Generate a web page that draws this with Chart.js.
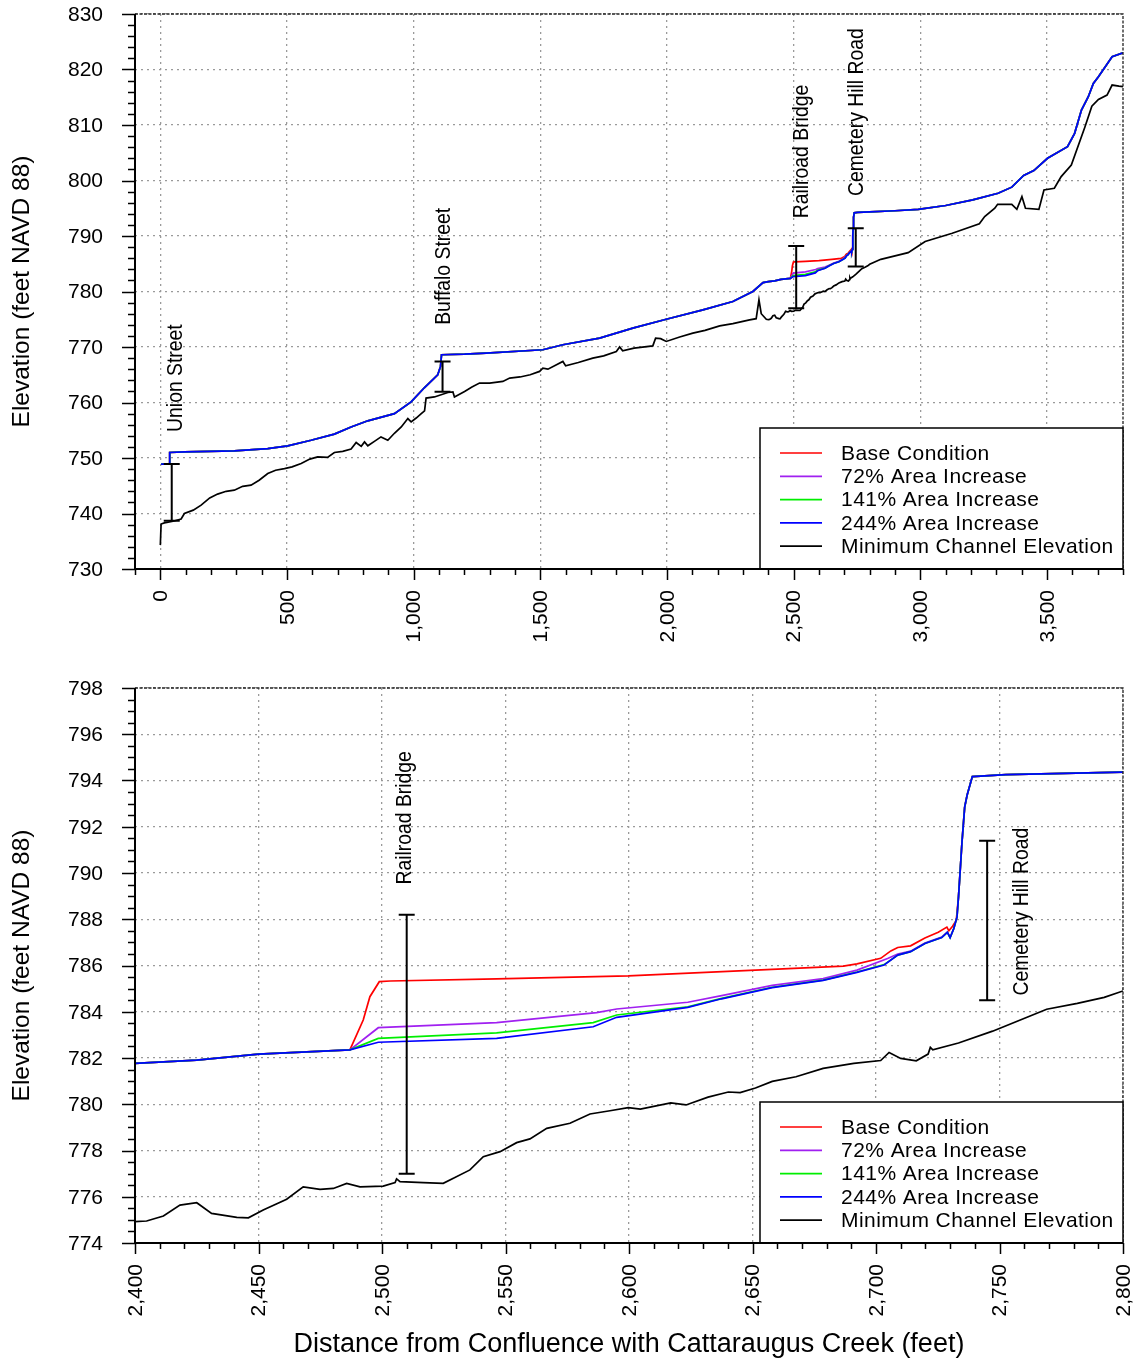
<!DOCTYPE html>
<html>
<head>
<meta charset="utf-8">
<script src="https://cdn.jsdelivr.net/npm/chart.js@4.4.1/dist/chart.umd.min.js"></script>
<style>
  body { margin: 0; background: #fff; }
  canvas { position: absolute; left: 0; }
  #topChart { top: 0; }
  #bottomChart { top: 660px; }
</style>
</head>
<body>
<canvas id="topChart" width="1133" height="660"></canvas>
<canvas id="bottomChart" width="1133" height="702"></canvas>
<script>
// water surface shared by all four runs, upstream of the railroad bridge
const wsUpX = [3, 36, 37, 95, 292, 424, 503, 595, 687, 753, 819, 924, 990, 1043, 1095, 1106, 1110, 1201, 1286, 1510, 1589, 1734, 1865, 1997, 2142, 2260, 2339, 2379, 2400, 2425, 2450, 2487];
const wsUpY = [748.9, 748.9, 751.0, 751.1, 751.3, 751.7, 752.2, 753.2, 754.3, 755.6, 756.7, 758.0, 760.1, 762.7, 765.0, 766.5, 768.6, 768.7, 768.9, 769.5, 770.4, 771.6, 773.4, 775.0, 776.7, 778.2, 780.0, 781.6, 781.77, 781.91, 782.17, 782.35];

// the part where the runs differ (railroad bridge to cemetery hill road)
const baseMidX = [2492.4, 2495.1, 2498.9, 2503.3, 2546.4, 2599.7, 2651.2, 2686.8, 2692.3, 2701.9, 2706, 2708.8, 2714, 2719.8, 2725.2, 2728.7, 2729.5, 2731, 2732.5];
const baseMidY = [783.64, 784.65, 785.30, 785.33, 785.42, 785.55, 785.8, 785.97, 786.07, 786.31, 786.63, 786.78, 786.85, 787.19, 787.44, 787.66, 787.5, 787.7, 787.95];
const pct72MidX = [2498.5, 2546.4, 2586.9, 2595, 2623.8, 2637.5, 2658, 2678.6, 2692.3, 2704.7, 2708.8, 2714, 2719.8, 2726.6, 2728.9, 2730, 2731.5, 2732.8];
const pct72MidY = [783.31, 783.53, 783.96, 784.12, 784.41, 784.70, 785.14, 785.43, 785.8, 786.3, 786.5, 786.62, 786.97, 787.23, 787.45, 787.22, 787.6, 788.1];
const pct141MidX = [2498.5, 2546.4, 2585.5, 2595, 2623.8, 2637.5, 2658, 2678.6, 2692.3, 2703.3, 2708.8, 2714, 2719.8, 2726.6, 2728.9, 2730, 2731.5, 2732.8];
const pct141MidY = [782.85, 783.09, 783.53, 783.86, 784.21, 784.58, 785.06, 785.37, 785.72, 786.04, 786.45, 786.6, 786.95, 787.21, 787.43, 787.2, 787.6, 788.1];
const pct244MidX = [2498.5, 2546.4, 2585.5, 2595, 2623.8, 2637.5, 2658, 2678.6, 2692.3, 2703.3, 2708.8, 2714, 2719.8, 2726.6, 2728.9, 2730, 2731.5, 2732.8];
const pct244MidY = [782.68, 782.85, 783.35, 783.76, 784.19, 784.56, 785.04, 785.36, 785.70, 786.02, 786.45, 786.6, 786.95, 787.21, 787.43, 787.2, 787.6, 788.1];

// shared again downstream of cemetery hill road
const wsDownX = [2733.4, 2734.1, 2734.8, 2735.9, 2736.9, 2739, 2752.6, 2800, 2900, 2992, 3100, 3207, 3307, 3361, 3408, 3448, 3502, 3581, 3609, 3636, 3663, 3683, 3703, 3730, 3757, 3800];
const wsDownY = [788.97, 790.13, 791.32, 792.85, 793.37, 794.17, 794.25, 794.36, 794.55, 794.8, 795.5, 796.5, 797.7, 798.8, 800.9, 801.8, 804.0, 806.1, 808.5, 812.7, 815.1, 817.5, 818.7, 820.5, 822.3, 823.0];

// minimum channel elevation
const chanX = [0, 3, 16, 50, 82, 95, 130, 161, 195, 226, 260, 292, 325, 358, 390, 424, 455, 490, 520, 556, 590, 621, 660, 687, 720, 753, 773, 793, 806, 819, 845, 871, 898, 925, 951, 977, 990, 1010, 1030, 1043, 1049, 1082, 1135, 1155, 1161, 1201, 1230, 1260, 1300, 1352, 1379, 1420, 1460, 1497, 1510, 1530, 1589, 1600, 1650, 1707, 1750, 1800, 1813, 1825, 1870, 1944, 1955, 1975, 1997, 2050, 2102, 2150, 2208, 2260, 2326, 2352, 2363, 2372, 2392,
  2400, 2404.7, 2411.5, 2418.2, 2425, 2431, 2441.2, 2445.9, 2451.9, 2461.4, 2468.1, 2474.9, 2480.3, 2485.7, 2491.1, 2500.5, 2505.3, 2505.9, 2507.3, 2516.7, 2524.8, 2528.9, 2535.6, 2541, 2547.8, 2554.5, 2559.9, 2566.7, 2576.1, 2584.2, 2592.3, 2599.7, 2604.6, 2616.9, 2623.1, 2632, 2640.2, 2645, 2651.2, 2658, 2667.6, 2678.6, 2691, 2701.9, 2705.3, 2710, 2716.3, 2721.1, 2722, 2723, 2733.4, 2747.2, 2760.9, 2769.1, 2781.5, 2792.4, 2800,
  2844, 2952, 3019, 3126, 3233, 3254, 3294, 3305, 3361, 3381, 3401, 3415, 3468, 3488, 3529, 3556, 3596, 3650, 3677, 3703, 3737, 3757, 3784, 3800];
const chanY = [734.3, 738.1, 738.3, 738.6, 739.0, 740.0, 740.6, 741.5, 742.8, 743.5, 744.0, 744.2, 744.9, 745.1, 746.0, 747.2, 747.8, 748.1, 748.4, 749.0, 749.8, 750.2, 750.1, 751.0, 751.2, 751.6, 752.8, 752.1, 752.9, 752.2, 753.0, 753.8, 753.2, 754.5, 755.6, 757.1, 756.5, 757.2, 758.0, 758.5, 760.8, 761.0, 761.8, 761.9, 761.0, 762.0, 762.8, 763.5, 763.5, 763.8, 764.4, 764.6, 765.0, 765.6, 766.2, 766.0, 767.4, 766.6, 767.2, 768.0, 768.4, 769.2, 770.0, 769.3, 769.8, 770.2, 771.6, 771.5, 771.0, 771.8, 772.5, 773.0, 773.8, 774.2, 774.9, 775.1, 778.5, 776.0, 775.0,
  774.92, 774.95, 775.17, 775.64, 775.74, 775.28, 775.11, 775.09, 775.43, 775.89, 776.43, 776.32, 776.36, 776.58, 776.43, 776.46, 776.61, 776.77, 776.65, 776.61, 776.58, 776.8, 777.16, 777.73, 777.95, 778.34, 778.5, 778.96, 779.18, 779.58, 779.72, 779.85, 779.79, 780.06, 779.97, 780.31, 780.53, 780.5, 780.70, 780.99, 781.19, 781.55, 781.77, 781.89, 782.24, 781.98, 781.88, 782.17, 782.46, 782.35, 782.65, 783.16, 783.75, 784.11, 784.36, 784.62, 784.9,
  785.8, 787.0, 789.0, 790.5, 792.2, 793.5, 795.0, 795.7, 795.7, 794.8, 797.1, 795.0, 794.8, 798.3, 798.6, 800.7, 802.8, 809.7, 813.4, 814.6, 815.4, 817.2, 817.0, 816.9];

const seriesNames = ['Base Condition', '72% Area Increase', '141% Area Increase', '244% Area Increase', 'Minimum Channel Elevation'];
const seriesColors = ['#ff0000', '#a020f0', '#00ee00', '#0000ff', '#000000'];

// bridges: station and the marker's vertical range
const bridgeNames = ['Union Street', 'Buffalo Street', 'Railroad Bridge', 'Cemetery Hill Road'];
const bridgeStation = [45, 1114, 2510, 2745];
const bridgeLow = [738.7, 761.95, 777.0, 784.5];
const bridgeHigh = [748.9, 767.4, 788.2, 791.4];
const topLabelStation = [59, 1116, 2528, 2745];
const topLabelElev = [754.7, 774.0, 793.2, 797.2];
const bottomLabelStation = [null, null, 2509, 2758.7];
const bottomLabelElev = [null, null, 789.5, 784.7];

const topXTicks = [0, 500, 1000, 1500, 2000, 2500, 3000, 3500];
const topYTicks = [730, 740, 750, 760, 770, 780, 790, 800, 810, 820, 830];
const bottomXTicks = [2400, 2450, 2500, 2550, 2600, 2650, 2700, 2750, 2800];
const bottomYTicks = [774, 776, 778, 780, 782, 784, 786, 788, 790, 792, 794, 796, 798];

const FONT = "'Liberation Sans', Arial, sans-serif";

function pts(xs, ys) {
  return xs.map((v, i) => ({ x: v, y: ys[i] }));
}

function makeDatasets() {
  const mids = [[baseMidX, baseMidY], [pct72MidX, pct72MidY], [pct141MidX, pct141MidY], [pct244MidX, pct244MidY]];
  const sets = mids.map((m, i) => ({
    label: seriesNames[i],
    data: pts([...wsUpX, ...m[0], ...wsDownX], [...wsUpY, ...m[1], ...wsDownY]),
    borderColor: seriesColors[i],
    order: 4 - i
  }));
  sets.push({ label: seriesNames[4], data: pts(chanX, chanY), borderColor: seriesColors[4], order: 0 });
  sets.forEach(d => {
    d.showLine = true;
    d.pointRadius = 0;
    d.borderWidth = 1.7;
    d.tension = 0;
  });
  return sets;
}

function makeChart(id, cfg) {
  const decor = {
    id: 'decor',
    afterDatasetsDraw(chart) {
      const { ctx, chartArea: a, scales: { x, y } } = chart;
      ctx.save();
      ctx.beginPath();
      ctx.rect(a.left, a.top, a.right - a.left, a.bottom - a.top);
      ctx.clip();
      ctx.strokeStyle = '#000';
      ctx.fillStyle = '#000';
      ctx.lineWidth = 2;
      for (let i = 0; i < bridgeNames.length; i++) {
        if (cfg.labelStation[i] === null) continue;
        const bx = x.getPixelForValue(bridgeStation[i]);
        const y1 = y.getPixelForValue(bridgeHigh[i]);
        const y2 = y.getPixelForValue(bridgeLow[i]);
        ctx.beginPath();
        ctx.moveTo(bx, y1); ctx.lineTo(bx, y2);
        ctx.moveTo(bx - 8, y1); ctx.lineTo(bx + 8, y1);
        ctx.moveTo(bx - 8, y2); ctx.lineTo(bx + 8, y2);
        ctx.stroke();

        const lx = x.getPixelForValue(cfg.labelStation[i]);
        const ly = y.getPixelForValue(cfg.labelElev[i]);
        ctx.save();
        ctx.translate(lx, ly);
        ctx.rotate(-Math.PI / 2);
        ctx.scale(0.88, 1);
        ctx.font = '22px ' + FONT;
        ctx.textAlign = 'left';
        ctx.textBaseline = 'middle';
        ctx.fillText(bridgeNames[i], 0, 1);
        ctx.restore();
      }
      ctx.restore();
    },
    afterDraw(chart) {
      const { ctx, chartArea: a, scales: { x, y } } = chart;
      ctx.save();

      // top and right frame
      ctx.strokeStyle = '#222';
      ctx.lineWidth = 1.3;
      ctx.setLineDash([3, 1.5]);
      ctx.beginPath();
      ctx.moveTo(a.left, a.top); ctx.lineTo(a.right, a.top); ctx.lineTo(a.right, a.bottom);
      ctx.stroke();
      ctx.setLineDash([]);

      // legend box
      const lw = 363, lh = 141;
      const lx = a.right - lw, ly = a.bottom - lh;
      ctx.fillStyle = '#fff';
      ctx.fillRect(lx, ly, lw, lh);
      ctx.strokeStyle = '#000';
      ctx.lineWidth = 1.5;
      ctx.strokeRect(lx, ly, lw, lh);
      ctx.font = '21px ' + FONT;
      ctx.letterSpacing = '0.45px';
      ctx.textAlign = 'left';
      ctx.textBaseline = 'middle';
      for (let i = 0; i < seriesNames.length; i++) {
        const ry = ly + 25 + i * 23.3;
        ctx.strokeStyle = seriesColors[i];
        ctx.lineWidth = 1.7;
        ctx.beginPath();
        ctx.moveTo(lx + 20, ry); ctx.lineTo(lx + 62, ry);
        ctx.stroke();
        ctx.fillStyle = '#000';
        ctx.fillText(seriesNames[i], lx + 81, ry + 1);
      }
      ctx.letterSpacing = '0px';

      // axis lines
      ctx.strokeStyle = '#000';
      ctx.lineWidth = 2;
      ctx.beginPath();
      ctx.moveTo(a.left, a.top); ctx.lineTo(a.left, a.bottom); ctx.lineTo(a.right, a.bottom);
      ctx.stroke();

      // major and minor tick marks
      ctx.lineWidth = 1.5;
      const isMajor = (v, step) => Math.abs(v / step - Math.round(v / step)) < 1e-6;
      const ny = Math.round((cfg.yMax - cfg.yMin) / cfg.yMinor);
      ctx.beginPath();
      for (let i = 0; i <= ny; i++) {
        const v = cfg.yMin + i * cfg.yMinor;
        const py = Math.round(y.getPixelForValue(v)) + 0.5;
        ctx.moveTo(a.left - (isMajor(v, cfg.yMajor) ? 13 : 7), py);
        ctx.lineTo(a.left, py);
      }
      const nx = Math.round((cfg.xMax - cfg.xMin) / cfg.xMinor);
      for (let i = 0; i <= nx; i++) {
        const v = cfg.xMin + i * cfg.xMinor;
        const px = Math.round(x.getPixelForValue(v)) + 0.5;
        ctx.moveTo(px, a.bottom);
        ctx.lineTo(px, a.bottom + (isMajor(v, cfg.xMajor) ? 11 : 6));
      }
      ctx.stroke();

      // tick labels
      ctx.fillStyle = '#000';
      ctx.font = '21px ' + FONT;
      ctx.textAlign = 'right';
      ctx.textBaseline = 'middle';
      cfg.yTicks.forEach(v => {
        ctx.fillText(String(v), a.left - 32, y.getPixelForValue(v) + 1);
      });
      cfg.xTicks.forEach(v => {
        ctx.save();
        ctx.translate(x.getPixelForValue(v) + 1, a.bottom + 21);
        ctx.rotate(-Math.PI / 2);
        ctx.fillText(v.toLocaleString('en-US'), 0, 0);
        ctx.restore();
      });

      // axis titles
      ctx.textAlign = 'center';
      ctx.save();
      ctx.translate(22, (a.top + a.bottom) / 2);
      ctx.rotate(-Math.PI / 2);
      ctx.font = '24.5px ' + FONT;
      ctx.fillText('Elevation (feet NAVD 88)', 0, 0);
      ctx.restore();
      if (cfg.xTitle) {
        ctx.font = '27px ' + FONT;
        ctx.fillText(cfg.xTitle, (a.left + a.right) / 2, cfg.xTitleY);
      }
      ctx.restore();
    }
  };

  return new Chart(document.getElementById(id), {
    type: 'scatter',
    data: { datasets: makeDatasets() },
    options: {
      responsive: false,
      animation: false,
      devicePixelRatio: 1,
      layout: { padding: { top: cfg.padTop, right: 10, left: 0, bottom: 0 } },
      plugins: { legend: { display: false }, tooltip: { enabled: false } },
      scales: {
        x: {
          type: 'linear',
          min: cfg.xMin,
          max: cfg.xMax,
          afterBuildTicks: s => { s.ticks = cfg.xTicks.map(v => ({ value: v })); },
          afterFit: s => { s.height = cfg.xAxisHeight; },
          grid: { color: '#9a9a9a', lineWidth: 1.3, drawTicks: false },
          border: { display: false, dash: [2, 4] },
          ticks: { display: false }
        },
        y: {
          type: 'linear',
          min: cfg.yMin,
          max: cfg.yMax,
          afterBuildTicks: s => { s.ticks = cfg.yTicks.map(v => ({ value: v })); },
          afterFit: s => { s.width = 135; },
          grid: { color: '#9a9a9a', lineWidth: 1.3, drawTicks: false },
          border: { display: false, dash: [2, 4] },
          ticks: { display: false }
        }
      }
    },
    plugins: [decor]
  });
}

makeChart('topChart', {
  xMin: -100, xMax: 3800, xMinor: 100, xMajor: 500, xTicks: topXTicks,
  yMin: 730, yMax: 830, yMinor: 2, yMajor: 10, yTicks: topYTicks,
  padTop: 14, xAxisHeight: 91,
  labelStation: topLabelStation, labelElev: topLabelElev
});

makeChart('bottomChart', {
  xMin: 2400, xMax: 2800, xMinor: 10, xMajor: 50, xTicks: bottomXTicks,
  yMin: 774, yMax: 798, yMinor: 0.5, yMajor: 2, yTicks: bottomYTicks,
  padTop: 28, xAxisHeight: 119,
  labelStation: bottomLabelStation, labelElev: bottomLabelElev,
  xTitle: 'Distance from Confluence with Cattaraugus Creek (feet)', xTitleY: 685
});
</script>
</body>
</html>
